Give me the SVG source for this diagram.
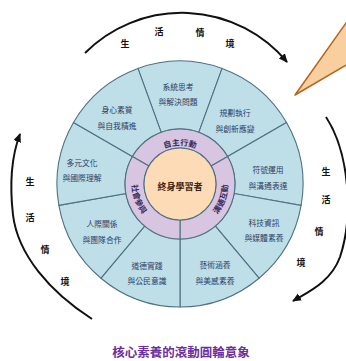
<svg xmlns="http://www.w3.org/2000/svg" width="346" height="361" viewBox="0 0 346 361">
<style>
.seg{fill:#bfdfe8;stroke:#4f7182;stroke-width:1.1}
.ring{fill:#d7c5e1;stroke:#4f7182;stroke-width:1.1}
.core{fill:#fddbb6;stroke:#4f7182;stroke-width:1.1}
.st{font-family:"Noto Sans CJK TC","Noto Sans CJK SC",sans-serif;font-size:7.8px;fill:#2b3d66;text-anchor:middle}
.rt{font-family:"Noto Sans CJK TC","Noto Sans CJK SC",sans-serif;font-size:8px;font-weight:bold;fill:#3a2a5e}
.ct{font-family:"Noto Sans CJK TC","Noto Sans CJK SC",sans-serif;font-size:9px;font-weight:bold;fill:#3a2410;text-anchor:middle}
.lt{font-family:"Noto Sans CJK TC","Noto Sans CJK SC",sans-serif;font-size:9px;font-weight:bold;fill:#111;text-anchor:middle}
.arc{fill:none;stroke:#111;stroke-width:2}
.cap{font-family:"Noto Sans CJK TC","Noto Sans CJK SC",sans-serif;font-size:12.5px;font-weight:bold;fill:#6b2fa0;text-anchor:middle}
</style>
<defs>
<marker id="ah" markerUnits="userSpaceOnUse" markerWidth="10" markerHeight="10" refX="8" refY="4" orient="auto">
<path d="M0,0 L9,4 L0,8 Z" fill="#111"/>
</marker>
<path id="p-top" d="M155.5,153.1 A43,43 0 0 1 204.5,153.1"/>
<path id="p-right" d="M204,225.57 A48,48 0 0 0 225.1,167.58"/>
<path id="p-left" d="M134.9,167.58 A48,48 0 0 0 156,225.57"/>
</defs>
<rect width="346" height="361" fill="#fff"/>

<g id="pointer">
<polygon points="295,95 352,14.5 352,61.5" fill="#f9cf9f" stroke="#b5651d" stroke-width="1.5" stroke-linejoin="round"/>
</g>

<g id="seg-system">
<path class="seg" d="M137.93,68.42 A123,123 0 0 1 222.07,68.42 L198.81,132.32 A55,55 0 0 0 161.19,132.32 Z"/>
<text class="st" x="178" y="90">系統思考</text>
<text class="st" x="178" y="105">與解決問題</text>
</g>
<g id="seg-plan">
<path class="seg" d="M222.07,68.42 A123,123 0 0 1 286.52,122.5 L227.63,156.5 A55,55 0 0 0 198.81,132.32 Z"/>
<text class="st" x="235" y="116">規劃執行</text>
<text class="st" x="235" y="132">與創新應變</text>
</g>
<g id="seg-symbol">
<path class="seg" d="M286.52,122.5 A123,123 0 0 1 301.13,205.36 L234.16,193.55 A55,55 0 0 0 227.63,156.5 Z"/>
<text class="st" x="268" y="173">符號運用</text>
<text class="st" x="268" y="189">與溝通表達</text>
</g>
<g id="seg-tech">
<path class="seg" d="M301.13,205.36 A123,123 0 0 1 259.06,278.22 L215.35,226.13 A55,55 0 0 0 234.16,193.55 Z"/>
<text class="st" x="264" y="226">科技資訊</text>
<text class="st" x="264" y="241">與媒體素養</text>
</g>
<g id="seg-art">
<path class="seg" d="M259.06,278.22 A123,123 0 0 1 180,307 L180,239 A55,55 0 0 0 215.35,226.13 Z"/>
<text class="st" x="215" y="268">藝術涵養</text>
<text class="st" x="215" y="284">與美感素養</text>
</g>
<g id="seg-moral">
<path class="seg" d="M180,307 A123,123 0 0 1 100.94,278.22 L144.65,226.13 A55,55 0 0 0 180,239 Z"/>
<text class="st" x="147" y="269">道德實踐</text>
<text class="st" x="147" y="284">與公民意識</text>
</g>
<g id="seg-people">
<path class="seg" d="M100.94,278.22 A123,123 0 0 1 58.87,205.36 L125.84,193.55 A55,55 0 0 0 144.65,226.13 Z"/>
<text class="st" x="102" y="227">人際關係</text>
<text class="st" x="102" y="243">與團隊合作</text>
</g>
<g id="seg-culture">
<path class="seg" d="M58.87,205.36 A123,123 0 0 1 73.48,122.5 L132.37,156.5 A55,55 0 0 0 125.84,193.55 Z"/>
<text class="st" x="82" y="166">多元文化</text>
<text class="st" x="82" y="181">與國際理解</text>
</g>
<g id="seg-body">
<path class="seg" d="M73.48,122.5 A123,123 0 0 1 137.93,68.42 L161.19,132.32 A55,55 0 0 0 132.37,156.5 Z"/>
<text class="st" x="117" y="113">身心素質</text>
<text class="st" x="117" y="129">與自我精進</text>
</g>

<g id="ring-auto">
<path class="ring" d="M132.37,156.5 A55,55 0 0 1 227.63,156.5 L211.18,166 A36,36 0 0 0 148.82,166 Z"/>
<text class="rt"><textPath href="#p-top" startOffset="50%" text-anchor="middle">自主行動</textPath></text>
</g>
<g id="ring-comm">
<path class="ring" d="M227.63,156.5 A55,55 0 0 1 180,239 L180,220 A36,36 0 0 0 211.18,166 Z"/>
<text class="rt"><textPath href="#p-right" startOffset="50%" text-anchor="middle">溝通互動</textPath></text>
</g>
<g id="ring-social">
<path class="ring" d="M180,239 A55,55 0 0 1 132.37,156.5 L148.82,166 A36,36 0 0 0 180,220 Z"/>
<text class="rt"><textPath href="#p-left" startOffset="50%" text-anchor="middle">社會參與</textPath></text>
</g>
<g id="core">
<circle class="core" cx="180" cy="184" r="36"/>
<text class="ct" x="180" y="190">終身學習者</text>
</g>

<g id="connectors">
<path class="arc" d="M85,53 A137,137 0 0 1 287,62" marker-end="url(#ah)"/>
<path class="arc" d="M326,117 C349,152 354,215 340,257 C331,282 308,292 293,301" marker-end="url(#ah)"/>
<path class="arc" d="M92,319 C50,292 18,255 13,215 C9,180 12,155 20,134" marker-end="url(#ah)"/>
</g>

<g id="labels">
<text class="lt" x="125" y="47">生</text>
<text class="lt" x="159" y="35">活</text>
<text class="lt" x="200" y="36">情</text>
<text class="lt" x="230" y="47">境</text>
<text class="lt" x="30" y="185">生</text>
<text class="lt" x="30" y="221">活</text>
<text class="lt" x="45" y="253">情</text>
<text class="lt" x="65" y="285">境</text>
<text class="lt" x="326" y="175">生</text>
<text class="lt" x="326" y="203">活</text>
<text class="lt" x="319" y="235">情</text>
<text class="lt" x="301" y="266">境</text>
</g>

<text class="cap" x="181" y="357">核心素養的滾動圓輪意象</text>
</svg>
